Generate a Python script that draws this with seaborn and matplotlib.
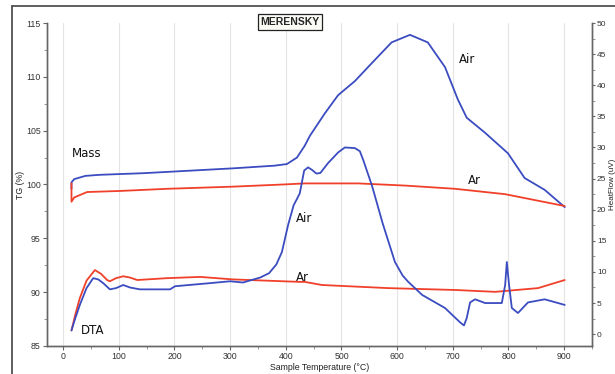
import matplotlib
matplotlib.use("Agg")
import matplotlib.pyplot as plt
import seaborn as sns
from matplotlib.ticker import MultipleLocator
from matplotlib.lines import Line2D

# TG curves (left axis, %)
tg_air_t = [15, 15, 20, 40, 66, 144, 305, 380, 402, 420, 434, 443, 470, 494,
            524, 555, 590, 623, 655, 686, 709, 725, 758, 799, 829, 865, 901]
tg_air = [99.6, 100.2, 100.5, 100.8, 100.9, 101.05, 101.5, 101.75, 101.9, 102.5,
          103.6, 104.5, 106.6, 108.3, 109.6, 111.3, 113.2, 113.9, 113.2, 110.9,
          107.9, 106.2, 104.8, 102.9, 100.6, 99.5, 97.9]
tg_ar_t = [15, 15, 20, 43, 102, 187, 305, 395, 434, 530, 614, 704, 794, 901]
tg_ar = [100.1, 98.4, 98.8, 99.3, 99.4, 99.6, 99.8, 100.0, 100.1, 100.1, 99.9,
         99.6, 99.1, 98.0]

# DTA curves (right axis, uV)
dta_air_t = [15, 22, 30, 42, 54, 63, 72, 84, 95, 108, 120, 138, 192, 201, 264,
             300, 323, 354, 370, 383, 393, 404, 414, 425, 433, 440, 447, 455,
             462, 476, 494, 506, 524, 533, 539, 555, 574, 596, 610, 620, 645,
             686, 713, 720, 725, 731, 740, 758, 788, 794, 797, 801, 806, 817,
             835, 865, 901]
dta_air = [0.6, 2.6, 4.7, 7.4, 9.0, 8.8, 8.2, 7.2, 7.4, 7.9, 7.5, 7.2, 7.2, 7.7,
           8.2, 8.5, 8.3, 9.1, 9.8, 11.2, 13.2, 17.5, 20.7, 22.6, 26.3, 26.8,
           26.4, 25.8, 25.9, 27.5, 29.2, 30.0, 29.9, 29.4, 28.0, 23.8, 17.8, 11.6,
           9.4, 8.4, 6.3, 4.2, 1.9, 1.4, 2.6, 5.1, 5.6, 5.0, 5.0, 7.9, 11.6, 7.9,
           4.2, 3.4, 5.1, 5.6, 4.7]
dta_ar_t = [15, 22, 30, 42, 57, 68, 79, 84, 95, 108, 120, 133, 187, 246, 305,
            425, 434, 465, 584, 704, 776, 853, 901]
dta_ar = [0.6, 3.2, 5.8, 8.6, 10.3, 9.7, 8.7, 8.5, 9.0, 9.3, 9.1, 8.7, 9.0, 9.2,
          8.8, 8.4, 8.4, 7.9, 7.4, 7.1, 6.8, 7.4, 8.7]

blue = "#3b4cc0"
red = "#f0402a"

sns.set_style("white")
plt.rcParams["font.family"] = ["Liberation Sans", "DejaVu Sans"]

fig = plt.figure(figsize=(6.15, 3.74), dpi=100)
ax = fig.add_axes([0.0764, 0.0749, 0.8862, 0.8636])
ax2 = ax.twinx()

sns.lineplot(x=tg_air_t, y=tg_air, ax=ax, color=blue, lw=1.3, estimator=None, sort=False)
sns.lineplot(x=tg_ar_t, y=tg_ar, ax=ax, color=red, lw=1.3, estimator=None, sort=False)
sns.lineplot(x=dta_ar_t, y=dta_ar, ax=ax2, color=red, lw=1.3, estimator=None, sort=False)
sns.lineplot(x=dta_air_t, y=dta_air, ax=ax2, color=blue, lw=1.3, estimator=None, sort=False)

ax.set_xlim(-29, 950)
ax.set_ylim(85, 115)
ax2.set_ylim(-1.9, 50)
ax.set_xticks(range(0, 1000, 100))
ax.set_yticks(range(85, 116, 5))
ax2.set_yticks(range(0, 51, 5))
ax.xaxis.set_minor_locator(MultipleLocator(50))
ax.yaxis.set_minor_locator(MultipleLocator(2.5))
ax2.yaxis.set_minor_locator(MultipleLocator(2.5))

for a in (ax, ax2):
    a.spines["top"].set_visible(False)
    for s in ("left", "right", "bottom"):
        a.spines[s].set_color("#666666")
        a.spines[s].set_linewidth(1.0)
    a.tick_params(which="major", length=3, width=0.8, color="#666666",
                  labelsize=6.3, labelcolor="#333333", pad=1.5)
    a.tick_params(which="minor", length=2, width=0.6, color="#888888")
ax.tick_params(axis="x", which="both", bottom=True)
ax.tick_params(axis="y", which="both", left=True)
ax2.tick_params(axis="y", which="both", right=True)
ax2.tick_params(axis="y", which="major", length=2.5, pad=1, labelsize=6.0)

for xv in range(0, 1000, 100):
    ax.axvline(xv, color="#e4e4e4", lw=0.8, zorder=0)

ax.set_xlabel("Sample Temperature (°C)", fontsize=6.3, color="#222222", labelpad=1)
ax.set_ylabel("TG (%)", fontsize=6.3, color="#222222")
ax2.set_ylabel("HeatFlow (uV)", fontsize=5.8, color="#222222")
ax.yaxis.set_label_coords(-0.040, 0.5)
ax2.yaxis.set_label_coords(1.031, 0.5)

lab = dict(fontsize=8.5, family="DejaVu Sans", color="#111111", va="center")
ax.text(16, 102.9, "Mass", **lab)
ax.text(711, 111.6, "Air", **lab)
ax.text(727, 100.4, "Ar", **lab)
ax.text(418, 96.8, "Air", **lab)
ax.text(418, 91.4, "Ar", **lab)
ax.text(32, 86.4, "DTA", **lab)

fig.text(0.4715, 0.941, "MERENSKY", fontsize=7.5, fontweight="bold",
         ha="center", va="center",
         bbox=dict(boxstyle="square,pad=0.25", fc="#fbfbf6", ec="#222222", lw=0.9))

# outer frame (top and left edges visible)
fig.add_artist(Line2D([0.0195, 1.0], [0.984, 0.984], color="#444444", lw=1.2))
fig.add_artist(Line2D([0.0195, 0.0195], [0.0, 0.984], color="#444444", lw=1.2))

fig.savefig("out.png", dpi=100)
